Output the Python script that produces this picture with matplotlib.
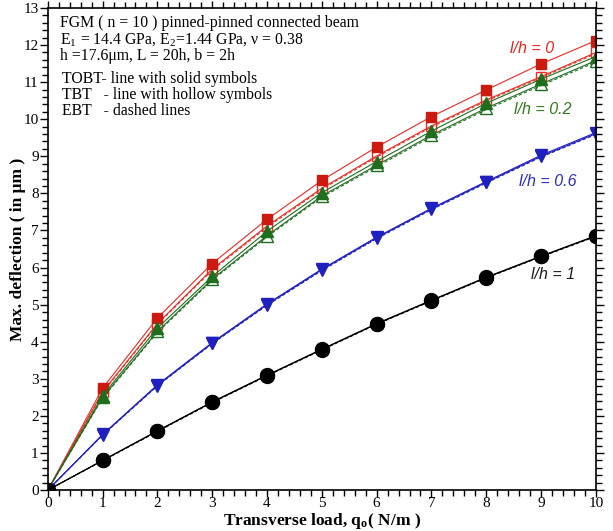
import numpy as np
import matplotlib
matplotlib.use('Agg')
import matplotlib.pyplot as plt
from matplotlib.ticker import MultipleLocator

# ─────────────────────────── data ───────────────
load = [0, 1, 2, 3, 4, 5, 6, 7, 8, 9, 10]

# l/h = 0
tobt_0   = [0, 2.75, 4.64, 6.11, 7.30, 8.35, 9.25, 10.07, 10.79, 11.49, 12.12]
tbt_0    = [0, 2.65, 4.49, 5.96, 7.12, 8.14, 9.01, 9.82, 10.52, 11.15, 11.80]
ebt_0    = [0, 2.63, 4.47, 5.93, 7.09, 8.11, 8.98, 9.79, 10.49, 11.12, 11.77]
# l/h = 0.2
tobt_02  = [0, 2.55, 4.37, 5.76, 6.98, 8.02, 8.86, 9.68, 10.43, 11.08, 11.69]
tbt_02   = [0, 2.50, 4.28, 5.69, 6.86, 7.93, 8.76, 9.57, 10.30, 10.95, 11.58]
ebt_02   = [0, 2.48, 4.25, 5.66, 6.83, 7.90, 8.72, 9.53, 10.26, 10.91, 11.54]
# l/h = 0.6
tobt_06  = [0, 1.50, 2.84, 3.98, 5.02, 5.96, 6.82, 7.60, 8.32, 9.03, 9.64]
tbt_06   = [0, 1.49, 2.82, 3.96, 5.00, 5.94, 6.80, 7.58, 8.30, 9.00, 9.61]
ebt_06   = [0, 1.48, 2.81, 3.95, 4.98, 5.92, 6.78, 7.56, 8.28, 8.98, 9.59]
# l/h = 1
tobt_1   = [0, 0.80, 1.60, 2.38, 3.10, 3.80, 4.49, 5.12, 5.74, 6.31, 6.86]
tbt_1    = [0, 0.80, 1.59, 2.37, 3.09, 3.79, 4.48, 5.11, 5.73, 6.30, 6.85]
ebt_1    = [0, 0.79, 1.58, 2.36, 3.08, 3.78, 4.47, 5.10, 5.72, 6.29, 6.84]

series = [
    # (tobt, tbt, ebt, colour, text colour, marker, msize, label, label_xy)
    (tobt_0,  tbt_0,  ebt_0,  '#ec2a22', '#e8241c', 's', 7,  'l/h = 0',   (8.83, 11.9)),
    (tobt_02, tbt_02, ebt_02, '#1e6e1e', '#2f7a1c', '^', 8,  'l/h = 0.2', (9.04, 10.27)),
    (tobt_06, tbt_06, ebt_06, '#2020c0', '#2b2bc8', 'v', 8,  'l/h = 0.6', (9.12, 8.33)),
    (tobt_1,  tbt_1,  ebt_1,  '#000000', '#1a1a1a', 'o', 10, 'l/h = 1',   (9.22, 5.81)),
]

# ──────────────────────────── plot ────────────────────────────────────
plt.rcParams.update({'font.family': 'Liberation Serif', 'font.size': 11,
                     'mathtext.fontset': 'stix'})

fig = plt.figure(figsize=(6.13, 5.31), dpi=100)
ax = fig.add_axes([0.078, 0.077, 0.894, 0.908])

for tobt, tbt, ebt, col, tcol, mk, ms, lab, (lx, ly) in series:
    ax.plot(load, ebt, color=col, lw=0.8, ls=(0, (3, 2)))
    ax.plot(load, tbt, color=col, lw=0.8, marker=mk, ms=ms,
            mfc='none', mec=col, mew=1.0)
    solid = '#cc1a10' if mk == 's' else col
    ax.plot(load, tobt, color=col, lw=0.8, marker=mk, ms=ms,
            mfc=solid, mec=solid)
    ax.text(lx, ly, lab, color=tcol, fontsize=11.5, style='italic',
            family='Liberation Sans', ha='center', va='center')

ax.set_xlim(0, 10)
ax.set_ylim(0, 13)
ax.xaxis.set_major_locator(MultipleLocator(1))
ax.xaxis.set_minor_locator(MultipleLocator(0.2))
ax.yaxis.set_major_locator(MultipleLocator(1))
ax.yaxis.set_minor_locator(MultipleLocator(0.2))
ax.tick_params(which='both', direction='out', top=True, right=True,
               labelsize=11, width=1.0, pad=0.5)
ax.tick_params(which='major', length=6)
ax.tick_params(which='minor', length=4)
ax.tick_params(axis='x', which='major', length=5, pad=0)
for sp in ax.spines.values():
    sp.set_linewidth(1.2)

ax.set_xlabel('Transverse load, q$_\\mathregular{o}$( N/m )', fontweight='bold',
              fontsize=12.5, labelpad=0.5)
ax.set_ylabel('Max. deflection ( in \u03bcm )', fontweight='bold',
              fontsize=12.5, labelpad=-2)

info = ('FGM ( n = 10 ) pinned-pinned connected beam\n'
        'E$_\\mathregular{1}$ = 14.4 GPa, E$_\\mathregular{2}$=1.44 GPa, \u03bd = 0.38\n'
        'h =17.6\u03bcm, L = 20h, b = 2h')
ax.text(0.22, 12.8, info, fontsize=11.3, va='top', ha='left', linespacing=1.0)
ax.text(0.25, 10.66, 'TOBT- line with solid symbols\n'
                     'TBT   - line with hollow symbols\n'
                     'EBT   - dashed lines',
        fontsize=11.3, va='center', ha='left', linespacing=1.0)

fig.savefig('out.png', dpi=100)
